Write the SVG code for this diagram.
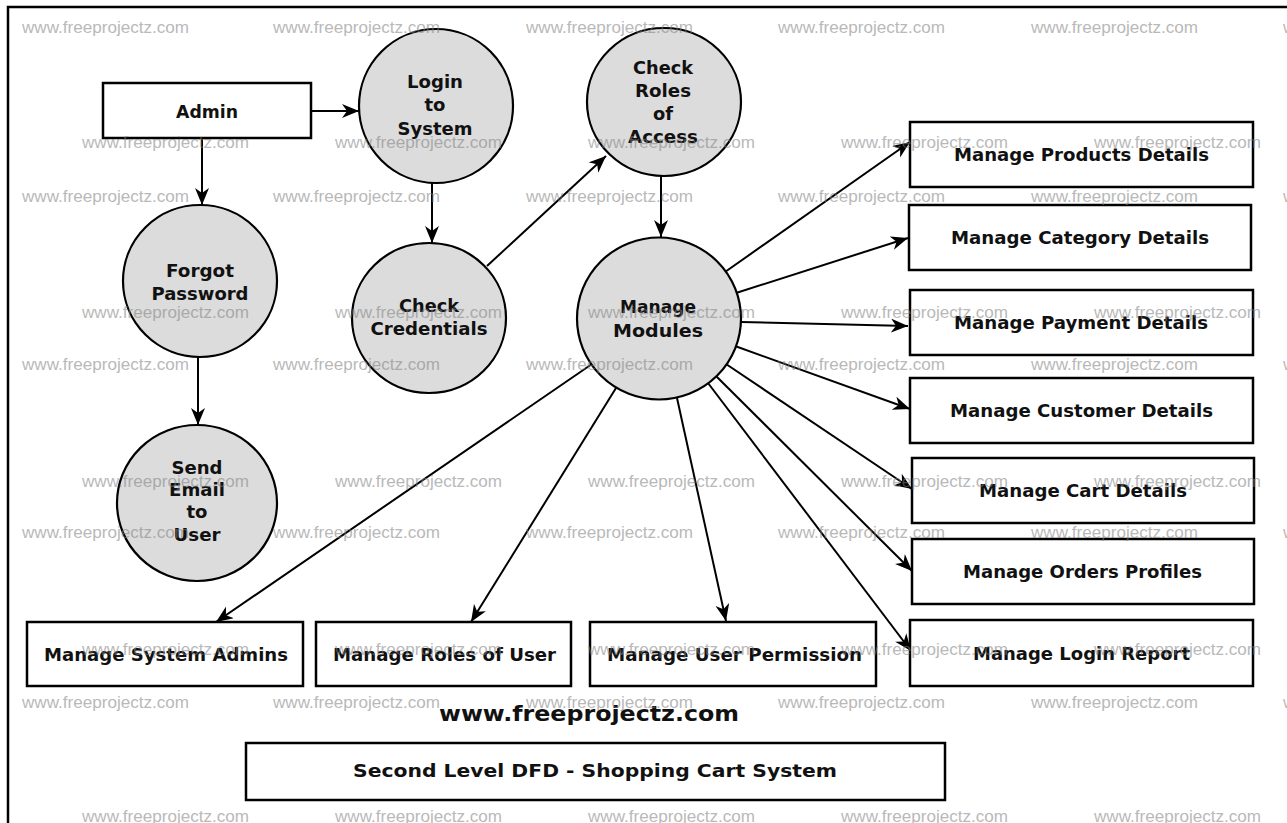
<svg xmlns="http://www.w3.org/2000/svg" width="1287" height="823" viewBox="0 0 1287 823">
<defs>
<marker id="ah" markerUnits="userSpaceOnUse" markerWidth="18" markerHeight="15" refX="17" refY="7" orient="auto">
<path d="M0,0 L17,7 L0,14 L5,7 Z" fill="#000"/>
</marker>
<style>
.box{fill:#fff;stroke:#000;stroke-width:2.5}
.proc{fill:#dcdcdc;stroke:#000;stroke-width:2.2}
.lbl{font-family:"DejaVu Sans",sans-serif;font-weight:bold;font-size:17px;fill:#111;text-anchor:middle}
.flow{fill:none;stroke:#000;stroke-width:2;marker-end:url(#ah)}
.wm{font-family:"Liberation Sans",Arial,sans-serif;font-size:16px;fill:#808080;opacity:0.55}
</style>
</defs>
<rect x="0" y="0" width="1287" height="823" fill="#fff"/>
<path d="M8,823 L8,7 L1287,7" fill="none" stroke="#000" stroke-width="2.5"/>

<g id="connectors">
<line class="flow" x1="311" y1="111" x2="359" y2="111"/>
<line class="flow" x1="202" y1="138" x2="202" y2="205"/>
<line class="flow" x1="432" y1="183" x2="432" y2="243"/>
<line class="flow" x1="198" y1="357" x2="198" y2="425"/>
<line class="flow" x1="487" y1="266" x2="606" y2="156"/>
<line class="flow" x1="661" y1="176" x2="661" y2="237"/>
<line class="flow" x1="725" y1="272" x2="910" y2="142"/>
<line class="flow" x1="736" y1="293" x2="908" y2="238"/>
<line class="flow" x1="741" y1="322" x2="908" y2="326"/>
<line class="flow" x1="735" y1="346" x2="910" y2="409"/>
<line class="flow" x1="726" y1="364" x2="912" y2="489"/>
<line class="flow" x1="716" y1="376" x2="912" y2="571"/>
<line class="flow" x1="708" y1="383" x2="911" y2="651"/>
<line class="flow" x1="592" y1="364" x2="216" y2="622"/>
<line class="flow" x1="616" y1="388" x2="471" y2="622"/>
<line class="flow" x1="677" y1="398" x2="726" y2="621"/>
</g>

<g id="admin"><rect class="box" x="103" y="83" width="208" height="55"/><text class="lbl" x="207" y="118" textLength="62" lengthAdjust="spacingAndGlyphs">Admin</text></g>

<g id="login-to-system"><ellipse class="proc" cx="436" cy="106" rx="77" ry="77"/>
<text class="lbl" x="435" y="88" textLength="56" lengthAdjust="spacingAndGlyphs">Login</text><text class="lbl" x="435" y="111" textLength="21" lengthAdjust="spacingAndGlyphs">to</text><text class="lbl" x="435" y="135" textLength="75" lengthAdjust="spacingAndGlyphs">System</text></g>

<g id="check-roles"><ellipse class="proc" cx="664" cy="102" rx="77" ry="74"/>
<text class="lbl" x="663" y="74" textLength="60" lengthAdjust="spacingAndGlyphs">Check</text><text class="lbl" x="663" y="97" textLength="56" lengthAdjust="spacingAndGlyphs">Roles</text><text class="lbl" x="663" y="120" textLength="20" lengthAdjust="spacingAndGlyphs">of</text><text class="lbl" x="663" y="143" textLength="70" lengthAdjust="spacingAndGlyphs">Access</text></g>

<g id="forgot-password"><ellipse class="proc" cx="200" cy="281" rx="77" ry="76"/>
<text class="lbl" x="200" y="277" textLength="68" lengthAdjust="spacingAndGlyphs">Forgot</text><text class="lbl" x="200" y="300" textLength="97" lengthAdjust="spacingAndGlyphs">Password</text></g>

<g id="check-credentials"><ellipse class="proc" cx="429" cy="318" rx="77" ry="75"/>
<text class="lbl" x="429" y="312" textLength="60" lengthAdjust="spacingAndGlyphs">Check</text><text class="lbl" x="429" y="335" textLength="117" lengthAdjust="spacingAndGlyphs">Credentials</text></g>

<g id="send-email"><ellipse class="proc" cx="197" cy="503" rx="80" ry="78"/>
<text class="lbl" x="197" y="474" textLength="51" lengthAdjust="spacingAndGlyphs">Send</text><text class="lbl" x="197" y="496" textLength="56" lengthAdjust="spacingAndGlyphs">Email</text><text class="lbl" x="197" y="518" textLength="21" lengthAdjust="spacingAndGlyphs">to</text><text class="lbl" x="197" y="541" textLength="47" lengthAdjust="spacingAndGlyphs">User</text></g>

<g id="manage-modules"><ellipse class="proc" cx="659" cy="318.5" rx="82" ry="81"/>
<text class="lbl" x="658" y="313" textLength="76" lengthAdjust="spacingAndGlyphs">Manage</text><text class="lbl" x="658" y="337" textLength="90" lengthAdjust="spacingAndGlyphs">Modules</text></g>

<g id="manage-products"><rect class="box" x="910" y="122" width="343" height="65"/><text class="lbl" x="1081.5" y="161" textLength="255" lengthAdjust="spacingAndGlyphs">Manage Products Details</text></g>
<g id="manage-category"><rect class="box" x="909" y="205" width="342" height="65"/><text class="lbl" x="1080" y="244" textLength="258" lengthAdjust="spacingAndGlyphs">Manage Category Details</text></g>
<g id="manage-payment"><rect class="box" x="910" y="290" width="343" height="65"/><text class="lbl" x="1081" y="329" textLength="254" lengthAdjust="spacingAndGlyphs">Manage Payment Details</text></g>
<g id="manage-customer"><rect class="box" x="910" y="378" width="343" height="65"/><text class="lbl" x="1081.5" y="417" textLength="263" lengthAdjust="spacingAndGlyphs">Manage Customer Details</text></g>
<g id="manage-cart"><rect class="box" x="912" y="458" width="342" height="65"/><text class="lbl" x="1083" y="497" textLength="208" lengthAdjust="spacingAndGlyphs">Manage Cart Details</text></g>
<g id="manage-orders"><rect class="box" x="912" y="539" width="342" height="65"/><text class="lbl" x="1082.5" y="578" textLength="239" lengthAdjust="spacingAndGlyphs">Manage Orders Profiles</text></g>
<g id="manage-login-report"><rect class="box" x="910" y="620" width="343" height="66"/><text class="lbl" x="1081.5" y="660" textLength="217" lengthAdjust="spacingAndGlyphs">Manage Login Report</text></g>
<g id="manage-system-admins"><rect class="box" x="27" y="622" width="276" height="64"/><text class="lbl" x="166" y="661" textLength="244" lengthAdjust="spacingAndGlyphs">Manage System Admins</text></g>
<g id="manage-roles-of-user"><rect class="box" x="316" y="622" width="255" height="64"/><text class="lbl" x="444.5" y="661" textLength="223" lengthAdjust="spacingAndGlyphs">Manage Roles of User</text></g>
<g id="manage-user-permission"><rect class="box" x="590" y="622" width="286" height="64"/><text class="lbl" x="734.5" y="661" textLength="255" lengthAdjust="spacingAndGlyphs">Manage User Permission</text></g>

<g id="site"><text class="lbl" x="589" y="721" style="font-size:21px" textLength="300" lengthAdjust="spacingAndGlyphs">www.freeprojectz.com</text></g>
<g id="title"><rect class="box" x="246" y="743" width="699" height="57"/><text class="lbl" x="595" y="777" textLength="484" lengthAdjust="spacingAndGlyphs">Second Level DFD - Shopping Cart System</text></g>

<g id="watermarks" class="wm">
<text x="22" y="33" textLength="167" lengthAdjust="spacingAndGlyphs">www.freeprojectz.com</text>
<text x="273" y="33" textLength="167" lengthAdjust="spacingAndGlyphs">www.freeprojectz.com</text>
<text x="526" y="33" textLength="167" lengthAdjust="spacingAndGlyphs">www.freeprojectz.com</text>
<text x="778" y="33" textLength="167" lengthAdjust="spacingAndGlyphs">www.freeprojectz.com</text>
<text x="1031" y="33" textLength="167" lengthAdjust="spacingAndGlyphs">www.freeprojectz.com</text>
<text x="1283" y="33" textLength="167" lengthAdjust="spacingAndGlyphs">www.freeprojectz.com</text>
<text x="82" y="148" textLength="167" lengthAdjust="spacingAndGlyphs">www.freeprojectz.com</text>
<text x="335" y="148" textLength="167" lengthAdjust="spacingAndGlyphs">www.freeprojectz.com</text>
<text x="588" y="148" textLength="167" lengthAdjust="spacingAndGlyphs">www.freeprojectz.com</text>
<text x="841" y="148" textLength="167" lengthAdjust="spacingAndGlyphs">www.freeprojectz.com</text>
<text x="1094" y="148" textLength="167" lengthAdjust="spacingAndGlyphs">www.freeprojectz.com</text>
<text x="22" y="202" textLength="167" lengthAdjust="spacingAndGlyphs">www.freeprojectz.com</text>
<text x="273" y="202" textLength="167" lengthAdjust="spacingAndGlyphs">www.freeprojectz.com</text>
<text x="526" y="202" textLength="167" lengthAdjust="spacingAndGlyphs">www.freeprojectz.com</text>
<text x="778" y="202" textLength="167" lengthAdjust="spacingAndGlyphs">www.freeprojectz.com</text>
<text x="1031" y="202" textLength="167" lengthAdjust="spacingAndGlyphs">www.freeprojectz.com</text>
<text x="1283" y="202" textLength="167" lengthAdjust="spacingAndGlyphs">www.freeprojectz.com</text>
<text x="82" y="318" textLength="167" lengthAdjust="spacingAndGlyphs">www.freeprojectz.com</text>
<text x="335" y="318" textLength="167" lengthAdjust="spacingAndGlyphs">www.freeprojectz.com</text>
<text x="588" y="318" textLength="167" lengthAdjust="spacingAndGlyphs">www.freeprojectz.com</text>
<text x="841" y="318" textLength="167" lengthAdjust="spacingAndGlyphs">www.freeprojectz.com</text>
<text x="1094" y="318" textLength="167" lengthAdjust="spacingAndGlyphs">www.freeprojectz.com</text>
<text x="22" y="370" textLength="167" lengthAdjust="spacingAndGlyphs">www.freeprojectz.com</text>
<text x="273" y="370" textLength="167" lengthAdjust="spacingAndGlyphs">www.freeprojectz.com</text>
<text x="526" y="370" textLength="167" lengthAdjust="spacingAndGlyphs">www.freeprojectz.com</text>
<text x="778" y="370" textLength="167" lengthAdjust="spacingAndGlyphs">www.freeprojectz.com</text>
<text x="1031" y="370" textLength="167" lengthAdjust="spacingAndGlyphs">www.freeprojectz.com</text>
<text x="1283" y="370" textLength="167" lengthAdjust="spacingAndGlyphs">www.freeprojectz.com</text>
<text x="82" y="487" textLength="167" lengthAdjust="spacingAndGlyphs">www.freeprojectz.com</text>
<text x="335" y="487" textLength="167" lengthAdjust="spacingAndGlyphs">www.freeprojectz.com</text>
<text x="588" y="487" textLength="167" lengthAdjust="spacingAndGlyphs">www.freeprojectz.com</text>
<text x="841" y="487" textLength="167" lengthAdjust="spacingAndGlyphs">www.freeprojectz.com</text>
<text x="1094" y="487" textLength="167" lengthAdjust="spacingAndGlyphs">www.freeprojectz.com</text>
<text x="22" y="538" textLength="167" lengthAdjust="spacingAndGlyphs">www.freeprojectz.com</text>
<text x="273" y="538" textLength="167" lengthAdjust="spacingAndGlyphs">www.freeprojectz.com</text>
<text x="526" y="538" textLength="167" lengthAdjust="spacingAndGlyphs">www.freeprojectz.com</text>
<text x="778" y="538" textLength="167" lengthAdjust="spacingAndGlyphs">www.freeprojectz.com</text>
<text x="1031" y="538" textLength="167" lengthAdjust="spacingAndGlyphs">www.freeprojectz.com</text>
<text x="1283" y="538" textLength="167" lengthAdjust="spacingAndGlyphs">www.freeprojectz.com</text>
<text x="82" y="655" textLength="167" lengthAdjust="spacingAndGlyphs">www.freeprojectz.com</text>
<text x="335" y="655" textLength="167" lengthAdjust="spacingAndGlyphs">www.freeprojectz.com</text>
<text x="588" y="655" textLength="167" lengthAdjust="spacingAndGlyphs">www.freeprojectz.com</text>
<text x="841" y="655" textLength="167" lengthAdjust="spacingAndGlyphs">www.freeprojectz.com</text>
<text x="1094" y="655" textLength="167" lengthAdjust="spacingAndGlyphs">www.freeprojectz.com</text>
<text x="22" y="708" textLength="167" lengthAdjust="spacingAndGlyphs">www.freeprojectz.com</text>
<text x="273" y="708" textLength="167" lengthAdjust="spacingAndGlyphs">www.freeprojectz.com</text>
<text x="526" y="708" textLength="167" lengthAdjust="spacingAndGlyphs">www.freeprojectz.com</text>
<text x="778" y="708" textLength="167" lengthAdjust="spacingAndGlyphs">www.freeprojectz.com</text>
<text x="1031" y="708" textLength="167" lengthAdjust="spacingAndGlyphs">www.freeprojectz.com</text>
<text x="1283" y="708" textLength="167" lengthAdjust="spacingAndGlyphs">www.freeprojectz.com</text>
<text x="82" y="822" textLength="167" lengthAdjust="spacingAndGlyphs">www.freeprojectz.com</text>
<text x="335" y="822" textLength="167" lengthAdjust="spacingAndGlyphs">www.freeprojectz.com</text>
<text x="588" y="822" textLength="167" lengthAdjust="spacingAndGlyphs">www.freeprojectz.com</text>
<text x="841" y="822" textLength="167" lengthAdjust="spacingAndGlyphs">www.freeprojectz.com</text>
<text x="1094" y="822" textLength="167" lengthAdjust="spacingAndGlyphs">www.freeprojectz.com</text>
</g>
</svg>
